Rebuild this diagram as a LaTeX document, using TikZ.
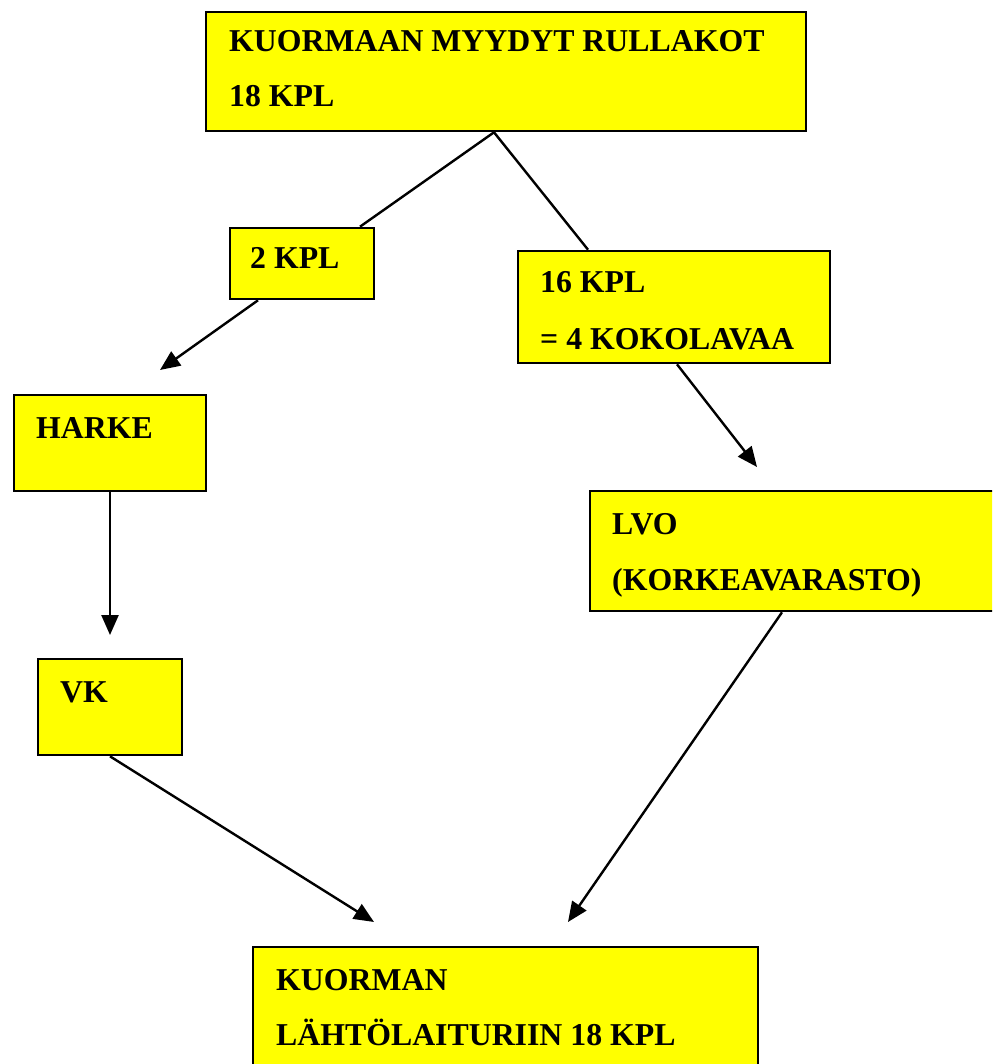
\documentclass[tikz,border=0pt]{standalone}
\usepackage{fontspec}
\setmainfont{Liberation Serif}
\usetikzlibrary{arrows.meta}
\definecolor{boxyellow}{RGB}{255,255,0}
\begin{document}
\begin{tikzpicture}[x=1pt,y=-1pt,
  box/.style={draw=black,line width=2.6pt,fill=boxyellow,rectangle,inner sep=0pt},
  label/.style={anchor=base west,inner sep=0pt,font=\fontsize{31.8}{36}\selectfont\bfseries},
  link/.style={line width=2.4pt},
  flow/.style={line width=2.4pt,-{Triangle[length=20pt,width=17pt]}}]
\useasboundingbox (0,0) rectangle (992,1064);
\clip (0,0) rectangle (992,1064);
\fill[white] (0,0) rectangle (992,1064);

% boxes
\node[box,minimum width=600pt,minimum height=119pt] (top) at (506,71.5) {};
\node[box,minimum width=144pt,minimum height=71pt] (two) at (302,263.5) {};
\node[box,minimum width=312pt,minimum height=112pt] (sixteen) at (674,307) {};
\node[box,minimum width=192pt,minimum height=96pt] (harke) at (110,443) {};
\node[box,minimum width=144pt,minimum height=96pt] (vk) at (110,707) {};
\node[box,minimum width=420pt,minimum height=120pt] (lvo) at (800,551) {};
\node[box,minimum width=505pt,minimum height=133pt] (dock) at (505.5,1013.5) {};

% texts
\node[label] (t1) at (229,52) {KUORMAAN MYYDYT RULLAKOT};
\node[label] (t2) at (229,107) {18 KPL};
\node[label] (t3) at (250,269) {2 KPL};
\node[label] (t4) at (540,293) {16 KPL};
\node[label] (t5) at (540,349) {= 4 KOKOLAVAA};
\node[label] (t6) at (36,438) {HARKE};
\node[label] (t7) at (60,702) {VK};
\node[label] (t8) at (612,534) {LVO};
\node[label] (t9) at (612,590) {(KORKEAVARASTO)};
\node[label] (t10) at (276,990) {KUORMAN};
\node[label] (t11) at (276,1045) {LÄHTÖLAITURIIN 18 KPL};

% free arrow ends
\coordinate (toHarke) at (160,370);
\coordinate (toLvo) at (757,467);
\coordinate (toVk) at (110,635);
\coordinate (fromVk) at (374,922);
\coordinate (fromLvo) at (568,922);

% connectors
\draw[link] ([xshift=-12pt]top.south) -- ([xshift=58pt]two.north);
\draw[link] ([xshift=-12pt]top.south) -- ([xshift=-86pt]sixteen.north);
\draw[flow] ([xshift=-44pt]two.south) -- (toHarke);
\draw[flow] ([xshift=3pt]sixteen.south) -- (toLvo);
\draw[flow] (harke.south) -- (toVk);
\draw[flow] (vk.south) -- (fromVk);
\draw[flow] ([xshift=-18pt]lvo.south) -- (fromLvo);
\end{tikzpicture}
\end{document}
